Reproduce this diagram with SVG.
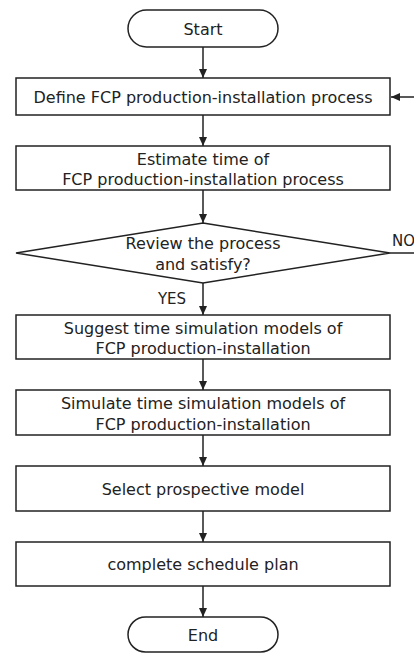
<svg xmlns="http://www.w3.org/2000/svg" width="414" height="653" viewBox="0 0 414 653">
<style>
.box{fill:#fff;stroke:#222;stroke-width:1.5}
.ln{fill:none;stroke:#222;stroke-width:1.5}
text{font-family:"DejaVu Sans","Noto Sans",sans-serif;font-size:16px;fill:#222;text-anchor:middle;dominant-baseline:central}
</style>
<defs>
<marker id="ah" markerWidth="10" markerHeight="10" refX="9" refY="5" orient="auto" markerUnits="userSpaceOnUse">
<path d="M0,1 L9,5 L0,9 Z" fill="#222"/>
</marker>
</defs>
<rect width="414" height="653" fill="#fff"/>
<g id="connectors">
<line class="ln" x1="203" y1="47" x2="203" y2="78" marker-end="url(#ah)"/>
<line class="ln" x1="203" y1="115" x2="203" y2="146" marker-end="url(#ah)"/>
<line class="ln" x1="203" y1="190" x2="203" y2="223" marker-end="url(#ah)"/>
<line class="ln" x1="203" y1="283" x2="203" y2="315" marker-end="url(#ah)"/>
<line class="ln" x1="203" y1="359" x2="203" y2="390" marker-end="url(#ah)"/>
<line class="ln" x1="203" y1="435" x2="203" y2="466" marker-end="url(#ah)"/>
<line class="ln" x1="203" y1="511" x2="203" y2="542" marker-end="url(#ah)"/>
<line class="ln" x1="203" y1="586" x2="203" y2="617" marker-end="url(#ah)"/>
<line class="ln" x1="390" y1="253" x2="414" y2="253"/>
<line class="ln" x1="414" y1="97" x2="391" y2="97" marker-end="url(#ah)"/>
<text x="172" y="299" style="font-size:15px">YES</text>
<text x="392" y="241" style="text-anchor:start;font-size:15px">NO</text>
</g>
<g id="start">
<rect class="box" x="128" y="10" width="150" height="37" rx="18.5"/>
<text x="203" y="29">Start</text>
</g>
<g id="define">
<rect class="box" x="16" y="78" width="374" height="37"/>
<text x="203" y="97">Define FCP production-installation process</text>
</g>
<g id="estimate">
<rect class="box" x="16" y="146" width="374" height="44"/>
<text x="203" y="159">Estimate time of</text>
<text x="203" y="179">FCP production-installation process</text>
</g>
<g id="review">
<polygon class="box" points="203,223 390,253 203,283 16,253"/>
<text x="203" y="243">Review the process</text>
<text x="203" y="264">and satisfy?</text>
</g>
<g id="suggest">
<rect class="box" x="16" y="315" width="374" height="44"/>
<text x="203" y="328">Suggest time simulation models of</text>
<text x="203" y="348">FCP production-installation</text>
</g>
<g id="simulate">
<rect class="box" x="16" y="390" width="374" height="45"/>
<text x="203" y="403">Simulate time simulation models of</text>
<text x="203" y="424">FCP production-installation</text>
</g>
<g id="select">
<rect class="box" x="16" y="466" width="374" height="45"/>
<text x="203" y="489">Select prospective model</text>
</g>
<g id="complete">
<rect class="box" x="16" y="542" width="374" height="44"/>
<text x="203" y="564">complete schedule plan</text>
</g>
<g id="end">
<rect class="box" x="128" y="617" width="150" height="35" rx="17.5"/>
<text x="203" y="635">End</text>
</g>
</svg>
